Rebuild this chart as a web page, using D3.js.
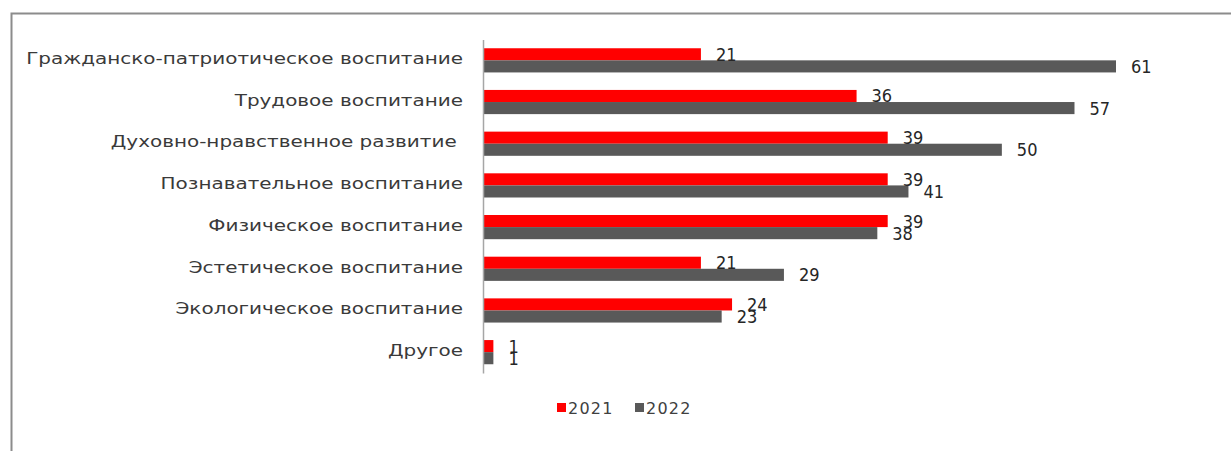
<!DOCTYPE html>
<html>
<head>
<meta charset="utf-8">
<title>chart</title>
<script src="https://cdn.jsdelivr.net/npm/d3@7"></script>
<style>
  body { margin: 0; background: #fff; }
  .cat text { font-family: "DejaVu Sans"; font-size: 15px; fill: #3a3a3a; white-space: pre; }
  .val { font-family: "DejaVu Sans Condensed", "DejaVu Sans"; font-size: 18px; fill: #262626; }
  .leg { font-family: "DejaVu Sans"; font-size: 16px; fill: #404040; letter-spacing: 1.2px; }
</style>
</head>
<body>
<div id="chart"></div>
<script>
var categories = [
  'Гражданско-патриотическое воспитание',
  'Трудовое воспитание',
  'Духовно-нравственное развитие ',
  'Познавательное воспитание',
  'Физическое воспитание',
  'Эстетическое воспитание',
  'Экологическое воспитание',
  'Другое'
];
var values2021 = [21, 36, 39, 39, 39, 21, 24, 1];
var values2022 = [61, 57, 50, 41, 38, 29, 23, 1];
var seriesNames = ['2021', '2022'];
var seriesColors = ['#ff0000', '#595959'];

var W = 1231, H = 451;
var svg = d3.select('#chart').append('svg')
  .attr('width', W).attr('height', H);

// frame (top and left edges only are visible)
svg.append('path')
  .attr('d', 'M11.5,' + H + 'V13.5H' + W)
  .attr('fill', 'none')
  .attr('stroke', '#8c8c8c')
  .attr('stroke-width', 2);

var x = d3.scaleLinear().domain([0, 61]).range([483, 1116]);
var y = d3.scaleBand().domain(categories).range([39.5, 373])
  .paddingInner(0.42).paddingOuter(0.21);
var ySub = d3.scaleBand().domain(seriesNames).range([0, y.bandwidth()]);

var series = [values2021, values2022];

series.forEach(function(vals, si) {
  var g = svg.append('g');
  g.selectAll('rect').data(vals).enter().append('rect')
    .attr('x', x(0))
    .attr('y', function(d, i) { return y(categories[i]) + ySub(seriesNames[si]); })
    .attr('width', function(d) { return x(d) - x(0); })
    .attr('height', ySub.bandwidth())
    .attr('fill', seriesColors[si]);
});

series.forEach(function(vals, si) {
  svg.append('g').selectAll('text').data(vals).enter().append('text')
    .attr('class', 'val')
    .attr('x', function(d) { return x(d) + 15; })
    .attr('y', function(d, i) { return y(categories[i]) + ySub(seriesNames[si]) + ySub.bandwidth() / 2; })
    .attr('dy', '0.36em')
    .text(function(d) { return d; });
});

var axis = svg.append('g')
  .attr('class', 'cat')
  .attr('transform', 'translate(' + x(0) + ',0)')
  .call(d3.axisLeft(y).tickSize(0).tickSizeOuter(0).tickPadding(20));
axis.select('.domain').attr('stroke', '#a6a6a6').attr('stroke-width', 1.5);
axis.selectAll('text').attr('font-family', null).attr('font-size', null)
  .attr('dy', '0.25em')
  .each(function() {
    // the original typeface is a wide geometric one: stretch DejaVu to match
    var w = this.getComputedTextLength();
    d3.select(this).attr('textLength', w * 1.33).attr('lengthAdjust', 'spacingAndGlyphs');
  });

// legend
var legX = [557, 635];
var leg = svg.append('g');
seriesNames.forEach(function(name, i) {
  leg.append('rect')
    .attr('x', legX[i]).attr('y', 403)
    .attr('width', 9).attr('height', 9)
    .attr('fill', seriesColors[i]);
  leg.append('text')
    .attr('class', 'leg')
    .attr('x', legX[i] + 11).attr('y', 408)
    .attr('dy', '0.36em')
    .text(name);
});
</script>
</body>
</html>
